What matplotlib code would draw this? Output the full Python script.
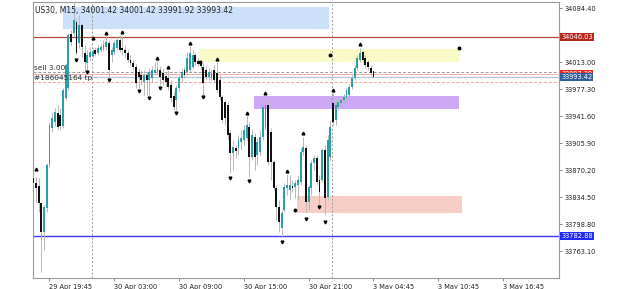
import matplotlib
matplotlib.use("Agg")
import matplotlib.pyplot as plt
from matplotlib.patches import Rectangle

# US30 M15 bars (bar index = position on chart)
opens = [33859.6, 33853.0, 33849.1, 33826.6, 33788.2, 33820.0, 33876.8, 33925.8, 33933.7, 33945.6,
         33942.9, 33928.4, 33965.4, 33978.6, 34050.0, 34051.4, 34065.9, 34038.1, 34062.0, 34024.9,
         34011.7, 34019.6, 34021.0, 34028.9, 34024.9, 34028.9, 34030.2, 34032.9, 34038.1, 34022.3,
         34026.2, 34031.5, 34042.1, 34031.5, 34028.9, 34024.9, 34015.7, 34011.7, 34006.4, 33999.8,
         33995.8, 33986.6, 33995.8, 33989.2, 33991.9, 33998.5, 33999.8, 34002.4, 33998.5, 33994.5,
         33991.9, 33982.6, 33968.1, 33962.8, 33978.6, 33991.9, 34002.4, 33999.8, 34002.4, 34006.4,
         34022.3, 34014.3, 34013.0, 34006.4, 34002.4, 33993.2, 33991.9, 34002.4, 33998.5, 33989.2,
         33966.7, 33960.1, 33956.2, 33919.1, 33892.7, 33899.3, 33899.3, 33907.2, 33909.9, 33912.5,
         33927.1, 33887.4, 33913.9, 33890.1, 33894.0, 33913.9, 33927.1, 33956.2, 33920.5, 33880.8,
         33846.4, 33821.3, 33793.5, 33817.3, 33846.4, 33843.8, 33849.1, 33847.7, 33850.4, 33854.4,
         33894.0, 33899.3, 33827.9, 33846.4, 33879.5, 33886.1, 33857.0, 33857.0, 33896.7, 33834.5,
         33887.4, 33958.8, 33936.3, 33953.5, 33958.8, 33962.8, 33965.4, 33969.4, 33980.0, 33991.9,
         34005.1, 34015.7, 34026.2, 34018.3, 34013.0, 34005.1, 34001.42]
highs = [33863.6, 33861.0, 33859.6, 33828.0, 33824.0, 33879.5, 33933.7, 33946.9, 33952.2, 33956.2,
         33952.2, 33978.6, 34011.7, 34051.4, 34055.3, 34092.4, 34071.2, 34075.2, 34064.6, 34035.5,
         34028.9, 34032.9, 34031.5, 34032.9, 34035.5, 34036.8, 34042.1, 34047.4, 34042.1, 34032.9,
         34042.1, 34047.4, 34048.7, 34047.4, 34035.5, 34028.9, 34022.3, 34015.7, 34010.4, 34005.1,
         34002.4, 34002.4, 33999.8, 34005.1, 34007.7, 34013.0, 34014.3, 34007.7, 34005.1, 33999.8,
         34002.4, 33989.2, 33973.4, 33982.6, 33995.8, 34005.1, 34006.4, 34026.2, 34034.2, 34028.9,
         34026.2, 34018.3, 34015.7, 34011.7, 34006.4, 34005.1, 34002.4, 34009.1, 34013.0, 33995.8,
         33969.4, 33962.8, 33960.1, 33923.1, 33909.9, 33903.3, 33916.5, 33923.1, 33929.7, 33941.6,
         33933.7, 33923.1, 33919.1, 33912.5, 33923.1, 33960.1, 33968.1, 33962.8, 33925.8, 33883.5,
         33850.4, 33830.6, 33817.3, 33853.0, 33864.9, 33863.6, 33857.0, 33857.0, 33863.6, 33899.3,
         33913.9, 33903.3, 33850.4, 33883.5, 33890.1, 33890.1, 33863.6, 33899.3, 33903.3, 33916.5,
         33936.3, 33972.0, 33962.8, 33965.4, 33968.1, 33970.7, 33978.6, 33983.9, 33995.8, 34009.1,
         34022.3, 34031.5, 34028.9, 34022.3, 34015.7, 34009.1, 34001.42]
lows = [33850.4, 33827.9, 33814.7, 33735.4, 33764.5, 33814.7, 33874.2, 33920.5, 33928.4, 33923.1,
        33923.1, 33925.8, 33962.8, 33976.0, 34035.5, 34047.4, 34022.3, 34031.5, 34019.6, 33999.8,
        34002.4, 34015.7, 34018.3, 34021.0, 34022.3, 34026.2, 34027.6, 34028.9, 33993.2, 34013.0,
        34022.3, 34028.9, 34026.2, 34022.3, 34019.6, 34013.0, 34009.1, 34002.4, 33978.6, 33978.6,
        33982.6, 33969.4, 33969.4, 33969.4, 33986.6, 33995.8, 33995.8, 33982.6, 33982.6, 33981.3,
        33976.0, 33960.1, 33949.6, 33949.6, 33973.4, 33986.6, 33991.9, 33995.8, 33999.8, 34005.1,
        34009.1, 34007.7, 34002.4, 33969.4, 33989.2, 33989.2, 33989.2, 33986.6, 33973.4, 33962.8,
        33932.4, 33929.7, 33909.9, 33866.3, 33870.2, 33886.1, 33890.1, 33896.7, 33903.3, 33909.9,
        33861.0, 33883.5, 33870.2, 33876.8, 33890.1, 33909.9, 33923.1, 33876.8, 33857.0, 33843.8,
        33804.1, 33788.2, 33781.6, 33814.7, 33837.2, 33830.6, 33841.1, 33833.2, 33830.6, 33850.4,
        33890.1, 33814.7, 33817.3, 33837.2, 33870.2, 33850.4, 33824.0, 33854.4, 33810.7, 33830.6,
        33883.5, 33929.7, 33929.7, 33949.6, 33954.8, 33957.5, 33962.8, 33966.7, 33977.3, 33989.2,
        34002.4, 34013.0, 34013.0, 34005.1, 34002.4, 33995.8, 33991.92]
closes = [33853.0, 33846.4, 33826.6, 33788.2, 33821.3, 33876.8, 33929.7, 33939.0, 33946.9, 33927.1,
          33928.4, 33976.0, 34009.1, 34048.7, 34039.5, 34068.6, 34024.9, 34062.0, 34032.9, 34013.0,
          34022.3, 34026.2, 34027.6, 34023.6, 34031.5, 34032.9, 34035.5, 34039.5, 34002.4, 34028.9,
          34038.1, 34042.1, 34028.9, 34028.9, 34024.9, 34015.7, 34011.7, 34006.4, 33985.3, 33993.2,
          33989.2, 33995.8, 33989.2, 33999.8, 34002.4, 34002.4, 34003.8, 33993.2, 33989.2, 33986.6,
          33980.0, 33965.4, 33953.5, 33978.6, 33991.9, 33999.8, 33995.8, 34018.3, 34024.9, 34022.3,
          34013.0, 34010.4, 34007.7, 33985.3, 33993.2, 33999.8, 33998.5, 33989.2, 33976.0, 33966.7,
          33936.3, 33939.0, 33916.5, 33892.7, 33900.6, 33895.3, 33909.9, 33912.5, 33923.1, 33929.7,
          33887.4, 33916.5, 33887.4, 33907.2, 33913.9, 33953.5, 33956.2, 33880.8, 33880.8, 33846.4,
          33821.3, 33801.5, 33813.4, 33847.7, 33850.4, 33850.4, 33846.4, 33853.0, 33857.0, 33894.0,
          33900.6, 33827.9, 33847.7, 33879.5, 33886.1, 33854.4, 33841.1, 33896.7, 33833.2, 33909.9,
          33927.1, 33933.7, 33956.2, 33960.1, 33962.8, 33966.7, 33976.0, 33980.0, 33991.9, 34005.1,
          34018.3, 34024.9, 34015.7, 34009.1, 34006.4, 33998.5, 33993.42]

# fractal arrows (bar, price)
up_bars = [1, 22, 27, 33, 46, 50, 58, 68, 79, 86, 94, 100, 111, 121]
up_prices = [33871.5, 34044.8, 34051.4, 34052.7, 34018.3, 34006.4, 34038.1, 34017.0,
             33945.6, 33972.0, 33868.9, 33919.1, 33976.0, 34036.8]
dn_bars = [16, 20, 28, 39, 43, 47, 53, 63, 73, 80, 92, 101, 106, 108]
dn_prices = [34015.7, 33999.8, 33989.2, 33974.7, 33965.4, 33978.6, 33945.6, 33966.7,
             33859.6, 33855.7, 33775.0, 33805.4, 33821.3, 33801.5]

# drawn objects: zones (bar from, bar to, price low, price high)
zone_x0 = [11.0, 61.7, 81.7, 97.6]
zone_x1 = [109.6, 157.7, 157.7, 158.8]
zone_lo = [34056.7, 34013.0, 33950.9, 33813.4]
zone_hi = [34085.7, 34030.2, 33968.1, 33835.8]
anchor_bars = [61.7, 157.7, 109.9, 96.9]
anchor_prices = [34013.0, 34031.5, 34022.3, 33817.3]

resistance = 34046.03
support = 33782.88
sell_price = 33999.6
ask_price = 33997.39
bid_price = 33993.42
tp_price = 33986.6
day_breaks = [21.7, 110.6]

tick_bars = [6, 30, 54, 78, 102, 126, 150, 174]
tick_labels = ["29 Apr 19:45", "30 Apr 03:00", "30 Apr 09:00", "30 Apr 15:00",
               "30 Apr 21:00", "3 May 04:45", "3 May 10:45", "3 May 16:45"]
price_ticks = [34084.40, 34013.00, 33977.30, 33941.60, 33905.90,
               33870.20, 33834.50, 33798.80, 33763.10]

W, H = 625, 289
fig = plt.figure(figsize=(W / 100, H / 100), dpi=100)
ax = fig.add_axes([33 / W, 11 / H, (559 - 33) / W, 276 / H])
ax.set_xlim(-0.1, 194.7)
ax.set_ylim(33727.4, 34092.4)

zone_colors = ["#cce0f9", "#fafac8", "#cfa8f5", "#f6cec6"]
for x0, x1, lo, hi, c in zip(zone_x0, zone_x1, zone_lo, zone_hi, zone_colors):
    ax.add_patch(Rectangle((x0, lo), x1 - x0, hi - lo, fc=c, ec="none", zorder=1))

for xb in day_breaks:
    ax.axvline(xb, color="#999999", lw=0.7, ls=(0, (2, 2)), zorder=2)

ax.axhline(resistance, color="#b5483d", lw=0.9, zorder=2)
ax.axhline(support, color="#3a3af5", lw=1.0, zorder=2)
ax.axhline(sell_price, color="#9a9a9a", lw=0.7, ls=(0, (3, 2)), zorder=2)
ax.axhline(ask_price, color="#f2a0a0", lw=0.6, zorder=2)
ax.axhline(bid_price, color="#bcc6d0", lw=0.9, zorder=2)
ax.axhline(tp_price, color="#f4a393", lw=0.7, ls=(0, (3, 2)), zorder=2)

# candles
xs = list(range(len(opens)))
ax.vlines(xs, lows, highs, color="#b8b8b8", lw=0.7, zorder=3)
for x, o, c in zip(xs, opens, closes):
    bull = c >= o
    bottom = min(o, c)
    height = max(abs(c - o), 1.2)
    ax.bar(x, height, bottom=bottom, width=0.7,
           color="#2a9fa8" if bull else "#111111", lw=0, zorder=4)

ax.plot(up_bars, up_prices, ls="none", marker="^", ms=2.0, color="black", zorder=5)
ax.plot(dn_bars, dn_prices, ls="none", marker="v", ms=2.0, color="black", zorder=5)
ax.plot(anchor_bars, anchor_prices, ls="none", marker="o", ms=1.8, color="black", zorder=5)

ax.text(0.003, 0.985, "US30, M15, 34001.42 34001.42 33991.92 33993.42",
        transform=ax.transAxes, fontsize=5.5, va="top", ha="left", color="#222222", zorder=6)
ax.text(0.4, sell_price + 1.5, "sell 3.00", fontsize=5.3, va="bottom", ha="left",
        color="#333333", zorder=6)
ax.text(0.4, tp_price + 1.0, "#186045164 tp", fontsize=5.3, va="bottom", ha="left",
        color="#333333", zorder=6)

# axes styling
for s in ax.spines.values():
    s.set_color("#9a9a9a")
    s.set_linewidth(0.8)
ax.yaxis.tick_right()
ax.set_yticks(price_ticks)
ax.set_yticklabels([f"{p:.2f}" for p in price_ticks])
ax.set_xticks(tick_bars)
ax.set_xticklabels(tick_labels, ha="left")
ax.tick_params(axis="both", labelsize=4.8, length=2.5, width=0.6, color="#777777",
               labelcolor="#222222", pad=1.5)

# price tags on the right (ask tag sits partly under the bid tag, as in MT4)
trans = ax.get_yaxis_transform()
tags = [(resistance, "#b52a1c"), (support, "#1f2bff"), (ask_price, "#e8261c"), (bid_price, "#2f5f9e")]
for price, col in tags:
    ax.text(1.004, price, f"{price:.2f}", transform=trans, fontsize=4.8, color="white",
            va="center", ha="left", zorder=7, clip_on=False,
            bbox=dict(boxstyle="square,pad=0.15", fc=col, ec="none"))

fig.savefig("out.png", dpi=100)
